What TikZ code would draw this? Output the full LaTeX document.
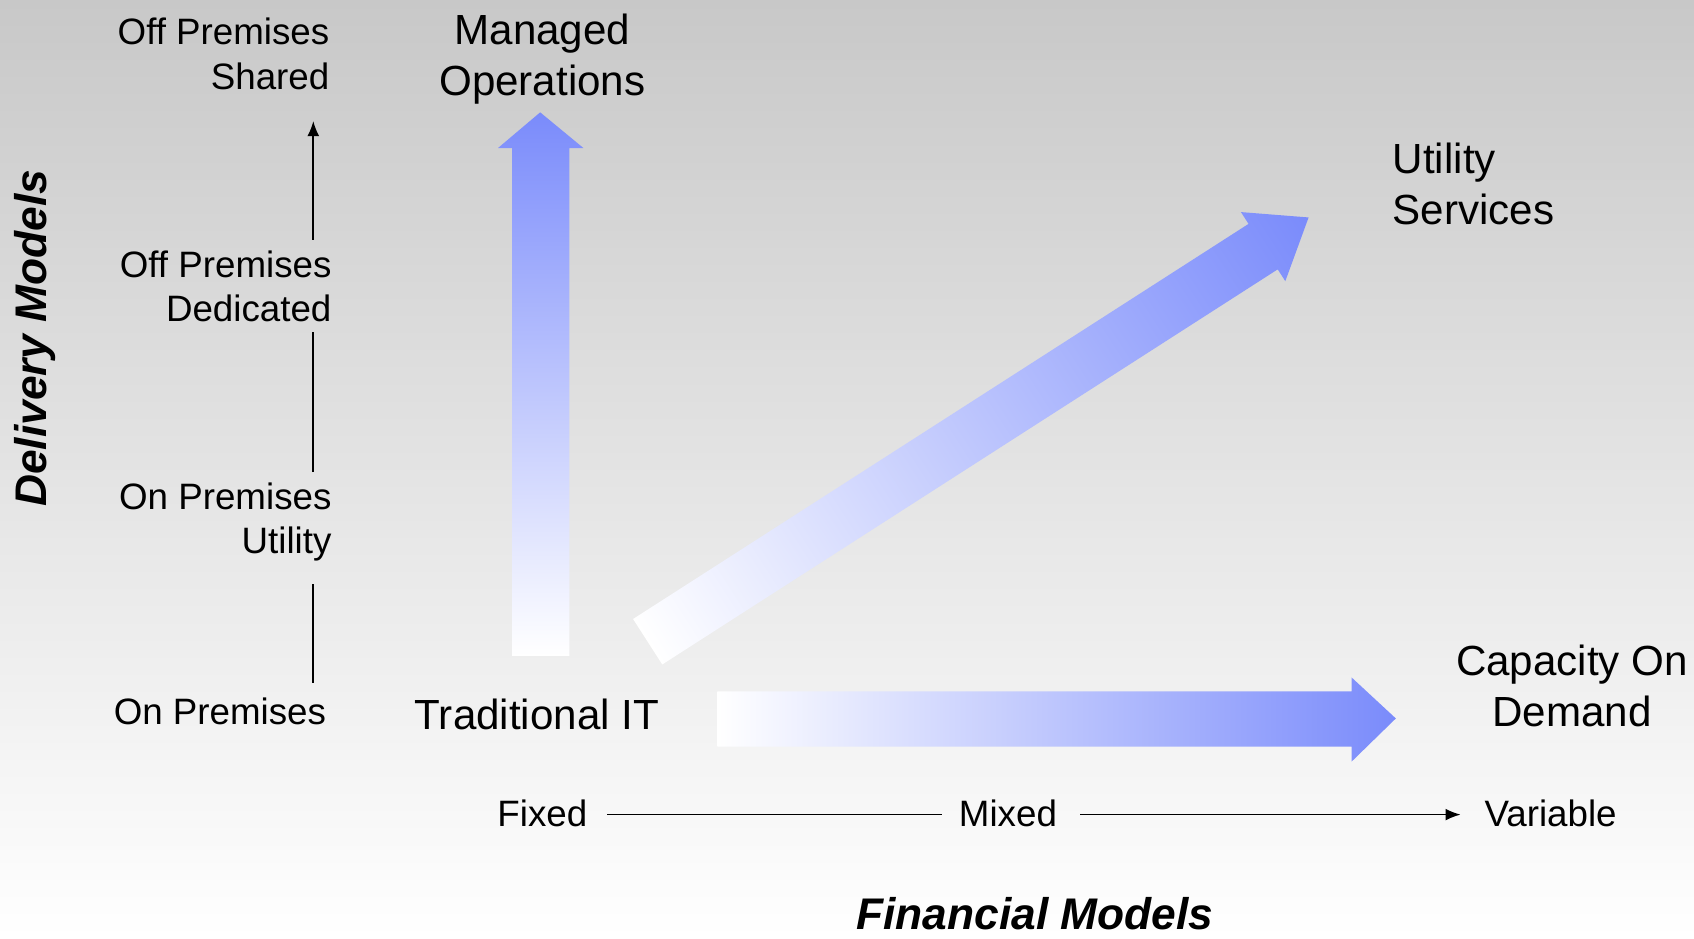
\documentclass[tikz,border=0pt]{standalone}
\usepackage{fontspec}
\setmainfont{Liberation Sans}
\usetikzlibrary{arrows.meta}
\definecolor{arrowblue}{RGB}{122,139,251}
\definecolor{bgtop}{RGB}{200,200,200}
\begin{document}
\begin{tikzpicture}[x=1pt,y=-1pt,
  small/.style={font=\fontsize{34}{41}\selectfont, inner sep=0pt},
  big/.style={font=\fontsize{39}{47}\selectfont, inner sep=0pt},
  titlelbl/.style={font=\fontsize{41}{48}\selectfont\bfseries\itshape, inner sep=0pt},
  axisline/.style={line width=1.5pt, black},
  axistip/.style={axisline, -{Latex[length=14pt,width=11pt]}}]
\useasboundingbox (0,0) rectangle (1568,869);
\shade[top color=bgtop, bottom color=white] (0,0) rectangle (1568,869);

% ---- big gradient arrows ----
\shade[top color=arrowblue, middle color=arrowblue!42!white, bottom color=white]
  (474,607) -- (474,137) -- (461,137) -- (500,104) -- (540,137) -- (527,137) -- (527,607) -- cycle;
\begin{scope}[transform canvas={shift={(599.5,594)}, rotate=32.7}]
  \shade[left color=white, middle color=arrowblue!42!white, right color=arrowblue]
    (0,-25) -- (677,-25) -- (677,-38) -- (727,0) -- (677,38) -- (677,25) -- (0,25) -- cycle;
\end{scope}
\shade[left color=white, middle color=arrowblue!50!white, right color=arrowblue]
  (664,640) -- (1251,640) -- (1251,627) -- (1292,665) -- (1251,705) -- (1251,691) -- (664,691) -- cycle;

% ---- delivery model labels ----
\node[small, align=right, anchor=east] (offshared) at (305,50) {Off Premises\\Shared};
\node[small, align=right, anchor=east] (offded) at (307,265) {Off Premises\\Dedicated};
\node[small, align=right, anchor=east] (onutil) at (307,483) {On Premises\\Utility};
\node[small, anchor=east] (onprem) at (302,658) {On Premises};

% ---- vertical axis ----
\coordinate (v0) at (290,632);
\coordinate (v1) at (290,541);
\coordinate (v2) at (290,437);
\coordinate (v3) at (290,307);
\coordinate (v4) at (290,222);
\coordinate (v5) at (290,112);
\draw[axisline] (v0) -- (v1);
\draw[axisline] (v2) -- (v3);
\draw[axistip] (v4) -- (v5);

% ---- outcome labels ----
\node[big, align=center] (managed) at (502,55) {Managed\\Operations};
\node[big, align=left, anchor=west] (utility) at (1289,170) {Utility\\Services};
\node[big, align=center] (capacity) at (1455,635) {Capacity On\\Demand};
\node[big] (trad) at (497,661) {Traditional IT};

% ---- financial axis ----
\node[small] (fixed) at (502,753) {Fixed};
\node[small] (mixed) at (933,753) {Mixed};
\node[small, anchor=west] (variable) at (1374,753) {Variable};
\coordinate (h0) at (562,754);
\coordinate (h1) at (872,754);
\coordinate (h2) at (1000,754);
\coordinate (h3) at (1352,754);
\draw[axisline] (h0) -- (h1);
\draw[axistip] (h2) -- (h3);

% ---- titles ----
\node[titlelbl, rotate=90] (delivery) at (32,313) {Delivery Models};
\node[titlelbl] (financial) at (958,846) {Financial Models};
\end{tikzpicture}
\end{document}
